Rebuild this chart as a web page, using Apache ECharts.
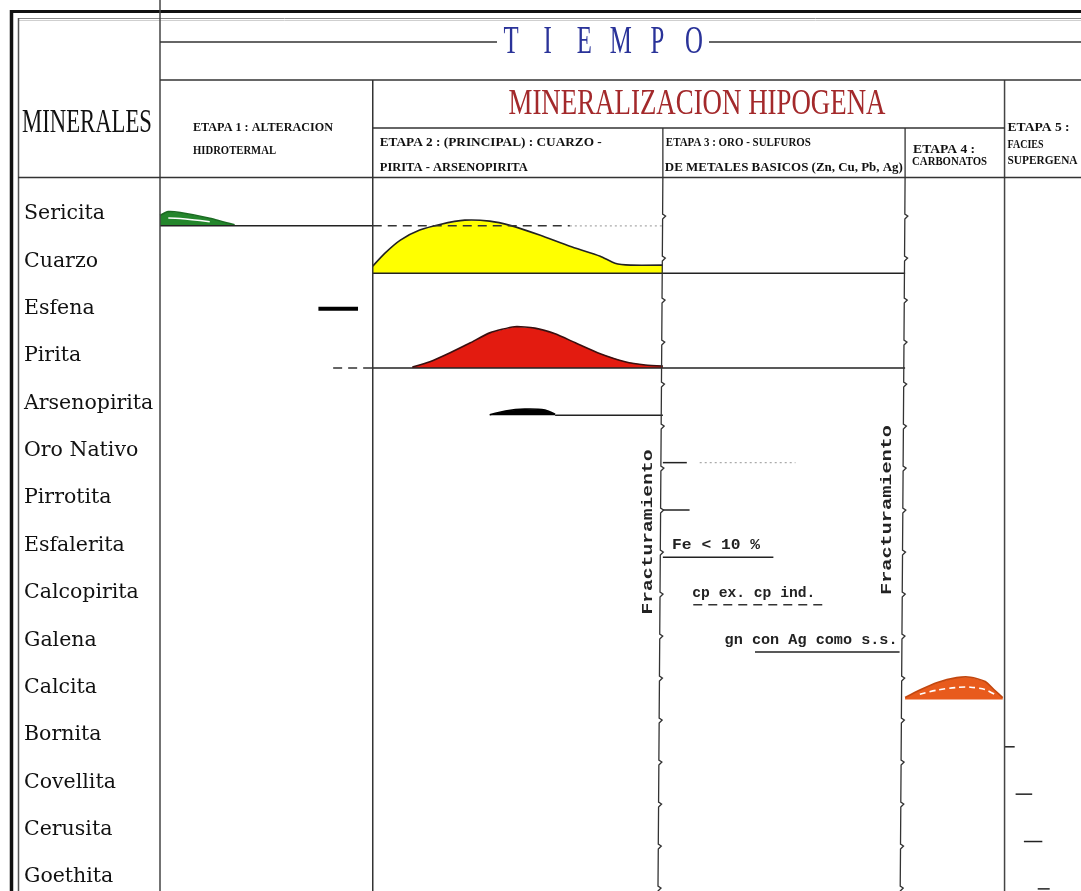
<!DOCTYPE html>
<html lang="es">
<head>
<meta charset="utf-8">
<title>Secuencia paragenética</title>
<script src="https://cdn.jsdelivr.net/npm/echarts@6/dist/echarts.min.js"></script>
<style>
html,body{margin:0;padding:0;background:#fff;}
#chart{width:1081px;height:891px;}
</style>
</head>
<body>
<div id="chart"></div>
<script>
// ---------- data ----------
const minerals = ['Sericita', 'Cuarzo', 'Esfena', 'Pirita', 'Arsenopirita', 'Oro Nativo',
  'Pirrotita', 'Esfalerita', 'Calcopirita', 'Galena', 'Calcita', 'Bornita',
  'Covellita', 'Cerusita', 'Goethita'];

// stage limits along the time axis (0 - 100)
const stageLimits = [0, 23.1, 54.6, 80.9, 91.7, 100];

// occurrence lines: [row, start, end, kind]
const occurrences = [
  [0, 0.0, 23.1, 'solid'],
  [0, 23.1, 44.5, 'dashed'],
  [0, 44.5, 54.6, 'dotted'],
  [1, 23.1, 80.9, 'solid'],
  [2, 17.2, 21.5, 'bar'],
  [3, 18.8, 23.1, 'dashed'],
  [3, 23.1, 80.9, 'solid'],
  [4, 42.9, 54.6, 'solid'],
  [5, 54.6, 57.2, 'solid'],
  [5, 58.6, 69.0, 'dotted'],
  [6, 54.6, 57.5, 'solid'],
  [7, 54.6, 66.6, 'solid'],
  [8, 57.9, 72.0, 'dashed'],
  [9, 64.6, 80.3, 'solid'],
  [11, 91.7, 92.8, 'solid'],
  [12, 92.9, 94.7, 'solid'],
  [13, 93.8, 95.8, 'solid'],
  [14, 95.3, 96.6, 'solid']
];

// abundance profiles (time, relative abundance in row heights)
const sericitaTime = [0.0, 0.9, 2.2, 5.4, 8.1];
const sericitaAbund = [0.22, 0.30, 0.28, 0.16, 0.02];
const cuarzoTime = [23.1, 24.4, 26.1, 28.2, 30.4, 33.1, 35.8, 38.0, 41.3, 44.5, 47.8, 49.4, 51.1, 54.6];
const cuarzoAbund = [0.15, 0.42, 0.70, 0.91, 1.03, 1.12, 1.10, 1.01, 0.80, 0.57, 0.36, 0.21, 0.17, 0.17];
const piritaTime = [27.4, 29.3, 31.5, 33.7, 35.8, 38.5, 40.7, 42.9, 45.1, 47.8, 50.5, 52.7, 54.6];
const piritaAbund = [0.02, 0.13, 0.32, 0.53, 0.74, 0.87, 0.84, 0.72, 0.53, 0.30, 0.13, 0.06, 0.04];
const arsenoTime = [35.8, 37.5, 39.6, 41.8, 42.9];
const arsenoAbund = [0.01, 0.09, 0.13, 0.11, 0.02];
const calcitaTime = [80.9, 82.5, 84.4, 86.5, 88.0, 89.6, 90.6, 91.5];
const calcitaAbund = [0.04, 0.20, 0.36, 0.46, 0.47, 0.38, 0.20, 0.04];

const profiles = [
  { name: 'Sericita', t: sericitaTime, a: sericitaAbund },
  { name: 'Cuarzo', t: cuarzoTime, a: cuarzoAbund },
  { name: 'Pirita', t: piritaTime, a: piritaAbund },
  { name: 'Arsenopirita', t: arsenoTime, a: arsenoAbund },
  { name: 'Calcita', t: calcitaTime, a: calcitaAbund }
];

// notes written on the stage 3 rows
const noteRows = [7, 8, 9];
const noteStart = [55.6, 57.8, 61.3];
const noteText = ['Fe < 10 %', 'cp ex. cp ind.', 'gn con Ag como s.s.'];

// stage limits that are fracture events
const fractureLimits = [2, 3];

// ---------- styles ----------
const ROW_PX = 47.36;               // height of one mineral row
const BASE = 0.25;                  // baseline of a row, below the label centre
const HEADER_BOTTOM_ROW = -0.78;    // header rule, in row units
const lineKinds = {
  solid:  { stroke: '#222', lineWidth: 1.5, lineDash: null },
  dashed: { stroke: '#333', lineWidth: 1.5, lineDash: [9, 6] },
  dotted: { stroke: '#aaa', lineWidth: 1.2, lineDash: [2, 3] },
  bar:    { stroke: '#000', lineWidth: 4, lineDash: null }
};
const profileStyle = {
  Sericita:     { fill: '#24862c', edge: '#1b6b22', inner: '#ffffff' },
  Cuarzo:       { fill: '#ffff00', edge: '#222222' },
  Pirita:       { fill: '#e31b10', edge: '#3a0f0f' },
  Arsenopirita: { fill: '#000000', edge: '#000000' },
  Calcita:      { fill: '#e85b1c', edge: '#c2470f', inner: '#ffffff' }
};
const noteWidth = [88, 123, 173];
const noteFont = 'bold 15px "Liberation Mono"';

const measureCtx = document.createElement('canvas').getContext('2d');
function fitScale(text, font, width) {
  measureCtx.font = font;
  return width / measureCtx.measureText(text).width;
}

const chart = echarts.init(document.getElementById('chart'), null, { renderer: 'canvas' });

// grid starts at the centre of the first row and runs to the bottom of the page
const gridTop = 214;
const gridHeight = 891 - gridTop;

const option = {
  animation: false,
  backgroundColor: '#ffffff',
  grid: { left: 160, top: gridTop, width: 921, height: gridHeight, containLabel: false },
  xAxis: { type: 'value', min: 0, max: 100, show: false },
  yAxis: {
    type: 'value', inverse: true, min: 0, max: gridHeight / ROW_PX, interval: 1,
    axisLine: { show: false }, axisTick: { show: false }, splitLine: { show: false },
    axisLabel: {
      align: 'left', margin: 136, color: '#111',
      fontFamily: '"DejaVu Serif"', fontSize: 20.5,
      showMaxLabel: false,
      formatter: v => minerals[Math.round(v)] || ''
    }
  },
  series: [
    {
      // abundance envelopes
      type: 'custom', clip: false, silent: true, z: 3,
      data: profiles.map(p => [p.t[0], minerals.indexOf(p.name)]),
      encode: { x: 0, y: 1 },
      renderItem(params, api) {
        const p = profiles[params.dataIndex];
        const st = profileStyle[p.name];
        const row = minerals.indexOf(p.name);
        const top = p.t.map((t, i) => api.coord([t, row + BASE - p.a[i]]));
        const base = p.t.slice().reverse().map(t => api.coord([t, row + BASE]));
        const children = [
          { type: 'polygon', shape: { points: top.concat(base), smooth: 0 },
            style: { fill: st.fill, stroke: null } },
          { type: 'polyline', shape: { points: top, smooth: 0.2 },
            style: { stroke: st.edge, lineWidth: 1.6, fill: null } }
        ];
        if (st.inner) {
          const inner = p.t.slice(1, -1).map((t, i) => api.coord([t, row + BASE - p.a[i + 1] * 0.55]));
          children.push({ type: 'polyline', shape: { points: inner, smooth: 0.3 },
            style: { stroke: st.inner, lineWidth: 1.6, lineDash: p.name === 'Calcita' ? [6, 4] : null, fill: null } });
        }
        return { type: 'group', children };
      }
    },
    {
      // occurrence lines
      type: 'custom', clip: false, silent: true, z: 4,
      data: occurrences.map(o => [o[1], o[0]]),
      encode: { x: 0, y: 1 },
      renderItem(params, api) {
        const o = occurrences[params.dataIndex];
        const k = lineKinds[o[3]];
        const yv = o[3] === 'bar' ? o[0] : o[0] + BASE;
        const a = api.coord([o[1], yv]);
        const b = api.coord([o[2], yv]);
        return { type: 'line', shape: { x1: a[0], y1: a[1], x2: b[0], y2: b[1] },
          style: { stroke: k.stroke, lineWidth: k.lineWidth, lineDash: k.lineDash, fill: null } };
      }
    },
    {
      // notes on stage 3
      type: 'custom', clip: false, silent: true, z: 4,
      data: noteRows.map((r, i) => [noteStart[i], r]),
      encode: { x: 0, y: 1 },
      renderItem(params, api) {
        const i = params.dataIndex;
        const pt = api.coord([noteStart[i], noteRows[i]]);
        return { type: 'text', x: pt[0], y: pt[1],
          scaleX: fitScale(noteText[i], noteFont, noteWidth[i]),
          style: { text: noteText[i], font: noteFont, fill: '#222', align: 'left', verticalAlign: 'middle' } };
      }
    },
    {
      // fracture rules between stages
      type: 'custom', clip: false, silent: true, z: 4,
      data: fractureLimits.map(i => [stageLimits[i], 0]),
      encode: { x: 0, y: 1 },
      renderItem(params, api) {
        const x = api.value(0);
        const top = api.coord([x, HEADER_BOTTOM_ROW]);
        const bot = api.coord([x, 14.6]);
        const pts = [[top[0], top[1]]];
        let y = top[1];
        const step = 37;
        while (y < bot[1]) {
          const yn = y + step;
          const drift = -5 * (yn - top[1]) / (bot[1] - top[1]);
          pts.push([top[0] + drift, yn]);
          pts.push([top[0] + drift + 3, yn + 2]);
          pts.push([top[0] + drift, yn + 5]);
          y = yn + 5;
        }
        return { type: 'polyline', shape: { points: pts },
          style: { stroke: '#333', lineWidth: 1.3, fill: null } };
      }
    }
  ]
};

chart.setOption(option);

// ---------- header table ----------
const X = stageLimits.map(v => chart.convertToPixel({ xAxisIndex: 0 }, v));
const g = [];
function rule(x1, y1, x2, y2, w, c) {
  return { type: 'line', silent: true, z: 5, shape: { x1, y1, x2, y2 },
    style: { stroke: c || '#333', lineWidth: w || 1.5 } };
}
function label(text, x, y, font, width, fill, align, rot) {
  return { type: 'text', silent: true, z: 6, x, y, rotation: rot || 0,
    scaleX: width ? fitScale(text, font, width) : 1,
    style: { text, font, fill: fill || '#111', align: align || 'left', verticalAlign: 'middle' } };
}

// frame
g.push(rule(10, 11.5, 1081, 11.5, 3, '#111'));
g.push(rule(19, 18.5, 1081, 18.5, 1, '#888'));
g.push(rule(19, 20.5, 1081, 20.5, 1, '#cfcfcf'));
g.push(rule(11.5, 10, 11.5, 891, 3.5, '#111'));
g.push(rule(18.5, 18, 18.5, 891, 1.5, '#555'));
// column rules
g.push(rule(X[0], 0, X[0], 891, 1.5, '#444'));
g.push(rule(X[1], 80, X[1], 891, 1.5, '#333'));
g.push(rule(X[4], 80, X[4], 891, 1.5, '#444'));
g.push(rule(X[2], 128, X[2], 177.5, 1.3, '#333'));
g.push(rule(X[3], 128, X[3], 177.5, 1.3, '#333'));
// header rows
g.push(rule(X[0], 42, 497, 42, 1.5, '#333'));
g.push(rule(709, 42, 1081, 42, 1.5, '#333'));
g.push(rule(X[0], 80, 1081, 80, 1.5, '#333'));
g.push(rule(X[1], 128, X[4], 128, 1.5, '#333'));
g.push(rule(18, 177.5, 1081, 177.5, 1.5, '#333'));

// titles
g.push(label('MINERALES', 22, 123, '33px "Liberation Serif"', 130));
'TIEMPO'.split('').forEach((ch, k) => {
  g.push(label(ch, 511 + 36.6 * k, 42, '40px "Liberation Serif"', 0, '#2a3399', 'center'));
  g[g.length - 1].scaleX = 0.62;
});
g.push(label('MINERALIZACION HIPOGENA', 697, 105, '35px "Liberation Serif"', 377, '#a3292b', 'center'));

// stage headings
const hf = 'bold 12px "Liberation Serif"';
g.push(label('ETAPA 1 : ALTERACION', 193, 128, hf, 140));
g.push(label('HIDROTERMAL', 193, 151, hf, 83));
g.push(label('ETAPA 2 : (PRINCIPAL) : CUARZO -', X[1] + 7, 143, hf, 222));
g.push(label('PIRITA - ARSENOPIRITA', X[1] + 7, 168, hf, 148));
g.push(label('ETAPA 3 : ORO - SULFUROS', X[2] + 3, 143, hf, 145));
g.push(label('DE METALES BASICOS (Zn, Cu, Pb, Ag)', X[2] + 2, 168, hf, 238));
g.push(label('ETAPA 4 :', X[3] + 8, 150, hf, 62));
g.push(label('CARBONATOS', X[3] + 7, 162, hf, 75));
g.push(label('ETAPA 5 :', X[4] + 3, 128, hf, 62));
g.push(label('FACIES', X[4] + 3, 145, hf, 36));
g.push(label('SUPERGENA', X[4] + 3, 161, hf, 70));

// fracture labels
const ff = 'bold 15px "Liberation Mono"';
g.push(label('Fracturamiento', X[2] - 15, 532, ff, 165, '#222', 'center', Math.PI / 2));
g.push(label('Fracturamiento', X[3] - 18, 510, ff, 170, '#222', 'center', Math.PI / 2));

chart.setOption({ graphic: g });
</script>
</body>
</html>
